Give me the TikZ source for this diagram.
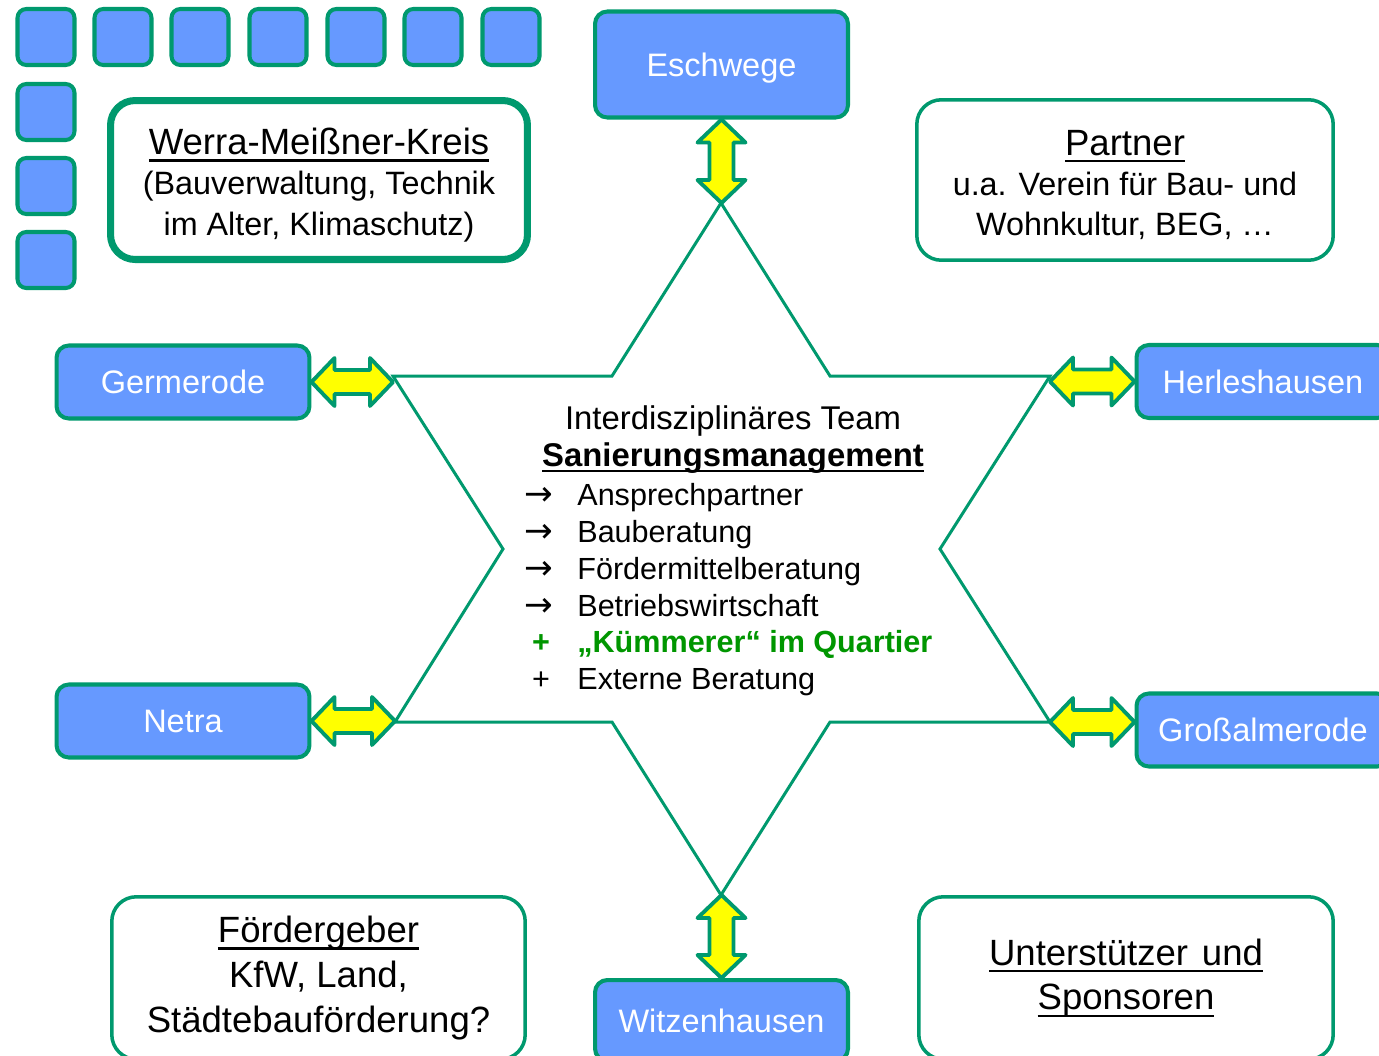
\documentclass[tikz,border=0pt]{standalone}
\usepackage{fontspec}
\setmainfont{Liberation Sans}
\newfontfamily\symfont{DejaVu Sans}
\usetikzlibrary{calc}
\definecolor{gborder}{RGB}{0,153,110}
\definecolor{bfill}{RGB}{102,153,255}
\definecolor{afill}{RGB}{255,255,0}
\definecolor{kgreen}{RGB}{0,150,0}
\newsavebox\ulbox
\newcommand\ulx[1]{\sbox\ulbox{#1}\rlap{\rule[-0.19em]{\wd\ulbox}{0.06em}}\usebox\ulbox}
\newcommand\ttl[1]{{\fontsize{20.8}{22.7}\selectfont\ulx{#1}}}
\newcommand\harr[2]{%
  \draw[dbl] (#1) -- ++(23,-24) -- ++(0,12) -- ($(#2)+(-23,-12)$) -- ++(0,-12) -- (#2)
    -- ++(-23,24) -- ++(0,-12) -- ($(#1)+(23,12)$) -- ++(0,12) -- cycle;}
\newcommand\varr[2]{%
  \draw[dbl] (#1) -- ++(24,23) -- ++(-12,0) -- ($(#2)+(12,-23)$) -- ++(12,0) -- (#2)
    -- ++(-24,-23) -- ++(12,0) -- ($(#1)+(-12,23)$) -- ++(-12,0) -- cycle;}
\begin{document}
\begin{tikzpicture}[x=0.02cm, y=-0.02cm,
  sq/.style={draw=gborder, fill=bfill, line width=2.3pt, rounded corners=5pt, minimum width=1.14cm, minimum height=1.12cm, inner sep=0pt},
  bluebox/.style={draw=gborder, fill=bfill, line width=2.3pt, rounded corners=7pt, text=white, font=\fontsize{18.5}{22}\selectfont, inner sep=0pt, minimum width=5.06cm, minimum height=1.46cm},
  whitebox/.style={draw=gborder, fill=white, line width=2pt, rounded corners=14pt, inner sep=0pt},
  txt/.style={font=\fontsize{18.4}{22.9}\selectfont, align=center, inner sep=0pt},
  bigtxt/.style={font=\fontsize{20.8}{25.5}\selectfont, align=center, inner sep=0pt},
  ctxt/.style={font=\fontsize{18.7}{21}\selectfont, inner sep=0pt},
  ltxt/.style={font=\fontsize{17.4}{21}\selectfont, inner sep=0pt},
  starline/.style={draw=gborder, line width=1.7pt, line join=miter},
  dbl/.style={draw=gborder, fill=afill, line width=2.2pt, line join=round}]
\fill[white] (0,0) rectangle (1379,1055);
\useasboundingbox (0,0) rectangle (1379,1055);
\clip (0,0) rectangle (1379,1055);

% small squares
\foreach \i/\x in {1/46,2/123,3/200,4/278,5/356,6/433,7/511}
  \node[sq] (q\i) at (\x,37) {};
\foreach \i/\y in {8/112,9/186,10/260}
  \node[sq] (q\i) at (46,\y) {};

% star
\coordinate (sT) at (721,203);
\coordinate (iTL) at (612,376);
\coordinate (sL) at (393,376);
\coordinate (iL) at (503,549);
\coordinate (sLB) at (395,722);
\coordinate (iBL) at (612,722);
\coordinate (sB) at (721,895);
\coordinate (iBR) at (830,722);
\coordinate (sRB) at (1050,722);
\coordinate (iR) at (940,549);
\coordinate (sR) at (1050,376);
\coordinate (iTR) at (830,376);
\draw[starline] (sT) -- (iTL) -- (sL) -- (iL) -- (sLB) -- (iBL) -- (sB) -- (iBR) -- (sRB) -- (iR) -- (sR) -- (iTR) -- cycle;

% white boxes
\node[whitebox, line width=4pt, minimum width=8.34cm, minimum height=3.18cm] (werra) at (319,180) {};
\node[txt] (werratxt) at (319,185) {\ttl{Werra-Meißner-Kreis}\\(Bauverwaltung, Technik\\im Alter, Klimaschutz)};
\node[whitebox, minimum width=8.33cm, minimum height=3.21cm] (partner) at (1125,180) {};
\node[txt] (partnertxt) at (1125,185) {\ttl{Partner}\\u.a. Verein für Bau- und\\Wohnkultur, BEG, …};
\node[whitebox, minimum width=8.27cm, minimum height=3.25cm] (foerder) at (318.5,978) {};
\node[bigtxt] (foerdertxt) at (318.5,978) {\ulx{Fördergeber}\\KfW, Land,\\Städtebauförderung?};
\node[whitebox, minimum width=8.29cm, minimum height=3.25cm] (unter) at (1126,978) {};
\node[bigtxt] (untertxt) at (1126,978) {\ulx{Unterstützer\hspace{0.38em}und}\\\ulx{Sponsoren}};

% blue boxes
\node[bluebox, minimum height=2.12cm, text depth=0pt] (esch) at (721.5,64.5) {Eschwege};
\node[bluebox] (germ) at (183,382) {Germerode};
\node[bluebox] (netra) at (183,721) {Netra};
\node[bluebox] (herl) at (1263,381.5) {Herleshausen};
\node[bluebox] (gross) at (1263,730) {Großalmerode};
\node[bluebox, minimum height=1.62cm] (witz) at (721.5,1020.5) {Witzenhausen};

% double arrows
\harr{germ.east}{germ.east -| sL}
\harr{netra.east}{netra.east -| sLB}
\harr{herl.west -| sR}{herl.west}
\harr{sRB}{sRB -| gross.west}
\varr{esch.south}{esch.south |- sT}
\varr{witz.north |- sB}{witz.north}

% centre text
\node[ctxt, anchor=base] (t1) at (733,429) {Interdisziplinäres Team};
\node[ctxt, anchor=base] (t2) at (733,466) {\ulx{\textbf{Sanierungsmanagement}}};
\foreach \n/\y/\t in {a/505/Ansprechpartner, b/542/Bauberatung, c/579/Fördermittelberatung, d/616/Betriebswirtschaft}{
  \node[ltxt, anchor=base] (s\n) at (539,\y) {\symfont\fontsize{19.5}{21}\selectfont →};
  \node[ltxt, anchor=base west] (l\n) at (577,\y) {\t};
}
\node[ltxt, anchor=base, text=kgreen] (se) at (541,652) {\textbf{+}};
\node[ltxt, anchor=base west, text=kgreen] (le) at (577,652) {\textbf{„Kümmerer“ im Quartier}};
\node[ltxt, anchor=base] (sf) at (541,689) {+};
\node[ltxt, anchor=base west] (lf) at (577,689) {Externe Beratung};
\end{tikzpicture}
\end{document}
